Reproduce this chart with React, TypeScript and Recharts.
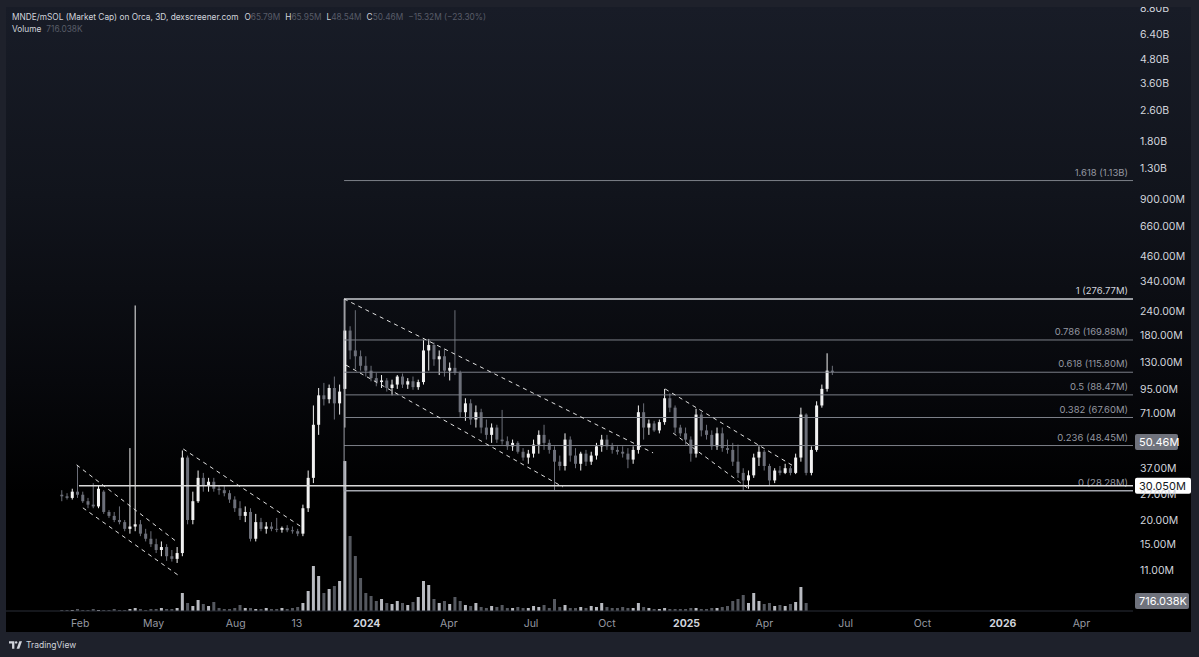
import React from "react";
import { ComposedChart, Bar, XAxis, YAxis, ReferenceLine, Cell } from "recharts";

const FONT = 'Inter, "Noto Sans", Roboto, sans-serif';

// 6-day candles (values in millions), first candle ~ day 10 of 2023
const FIRST_DAY = 10;
const STEP_DAYS = 6;

const OPEN = [
  27, 26.5, 26, 28, 27, 25, 24, 23.5, 28, 22,
  21, 20, 19.5, 18, 18.5, 19, 17, 16, 15, 14,
  14.5, 13, 12.6, 13.5, 42, 20, 25, 33, 30, 31.5,
  29, 28.5, 27.5, 25.5, 23, 21, 22, 16, 19.5, 18,
  18.5, 18, 17.8, 18.2, 17.7, 17.5, 17, 23, 33, 62,
  88, 84, 96, 80, 95, 190, 150, 140, 125, 118,
  108, 103, 105, 96, 100, 110, 100, 104, 97, 103,
  150, 160, 135, 140, 118, 122, 115, 72, 80, 66,
  72, 60, 55, 60, 52, 51, 48, 50, 45, 42,
  44, 49, 55, 50, 46, 40, 38, 52, 43, 39,
  44, 40, 43, 48, 52, 48, 46, 45, 44, 41,
  46, 72, 60, 63, 58, 64, 85, 76, 60, 56,
  52, 44, 70, 58, 55, 48, 56, 47, 46, 40,
  35, 32, 34, 42, 45, 38, 32, 36, 35, 37,
  35, 42, 70, 35, 46, 78, 95, 118,
];
const HIGH = [
  28.5, 27.5, 29, 38.5, 28, 26, 31, 30, 28.5, 22.5,
  22, 23.5, 20, 47, 256, 20, 18, 17.5, 16, 15.5,
  15, 14, 14.5, 45.7, 43, 28, 36, 35, 33, 33,
  30, 30, 28.5, 26.5, 25, 23.5, 23, 21.5, 20.5, 19.5,
  19.5, 20.5, 18.5, 18.8, 18.5, 18, 24, 36, 78, 96,
  102, 100, 110, 100, 277, 200, 242, 150, 140, 125,
  115, 112, 108, 106, 112, 114, 108, 110, 106, 170,
  172, 165, 150, 152, 130, 242, 118, 85, 84, 78,
  75, 66, 63, 62, 74, 54, 52, 51, 47, 46,
  52, 58, 62, 52, 48, 43, 56, 54, 47, 45,
  46, 45, 50, 55, 55, 50, 48, 48, 47, 48,
  78, 80, 66, 65, 66, 95, 90, 78, 62, 60,
  54, 75, 72, 62, 58, 60, 60, 52, 50, 49,
  37, 36, 44, 48, 46, 39, 37, 38, 39, 38,
  44, 76, 71, 48, 82, 100, 145, 125,
];
const LOW = [
  25, 25.5, 25.5, 26, 24.5, 23, 23, 23, 21.5, 20.5,
  19.5, 19, 17.5, 17, 17.5, 16.5, 15.5, 14.5, 13.5, 13,
  12.3, 12.2, 12, 13, 19, 19, 24.5, 28, 28, 28,
  27, 26.5, 24.5, 22, 20, 19.5, 15.5, 15.5, 17.5, 17,
  17.5, 17.3, 17.2, 17.3, 17, 16.5, 16.5, 22, 31, 55,
  78, 80, 66, 70, 60, 135, 120, 118, 110, 104,
  98, 96, 92, 88, 95, 96, 95, 94, 94, 100,
  118, 125, 112, 110, 105, 112, 68, 65, 62, 60,
  56, 52, 50, 50, 49, 46, 45.5, 44, 40.5, 39,
  42, 44, 46, 44, 28.3, 36, 36, 40, 37, 36,
  38, 38.5, 41, 45, 46, 44, 43.5, 42, 37, 39,
  44, 52, 55, 57, 56, 62, 72, 56, 54, 49,
  40, 42, 54, 52, 46, 46, 45, 44, 38, 33,
  28.5, 29, 33, 38, 36, 30, 31, 34, 34.5, 34,
  34.5, 40, 34, 34, 45, 76, 92, 112,
];
const CLOSE = [
  26.5, 26, 28, 27, 25, 24, 23.5, 29, 22, 21,
  20, 19.5, 18, 18.5, 19, 17, 16, 15, 14, 14.5,
  13, 12.6, 13.5, 42, 20, 25, 33, 30, 31.5, 29,
  28.5, 27.5, 25.5, 23, 21, 22, 16, 19.5, 18, 18.5,
  18, 17.8, 18.2, 17.7, 17.5, 17, 23, 33, 62, 88,
  84, 96, 80, 92, 190, 150, 140, 125, 118, 108,
  103, 105, 96, 100, 110, 100, 104, 97, 103, 150,
  160, 135, 140, 118, 122, 115, 72, 80, 66, 72,
  60, 55, 60, 52, 51, 48, 50, 45, 42, 44,
  49, 55, 50, 46, 40, 38, 52, 43, 39, 44,
  40, 43, 48, 52, 48, 46, 45, 44, 41, 46,
  72, 60, 63, 58, 64, 85, 76, 60, 56, 52,
  44, 70, 58, 55, 48, 56, 47, 46, 40, 35,
  32, 34, 42, 45, 38, 32, 36, 35, 37, 35,
  42, 70, 35, 46, 78, 95, 118, 116,
];
// volume in thousands
const VOLUME = [
  72, 72, 72, 144, 72, 72, 144, 72, 72, 72,
  144, 72, 72, 144, 216, 144, 72, 144, 144, 216,
  144, 144, 216, 1296, 576, 360, 792, 504, 360, 648,
  216, 144, 144, 216, 432, 216, 216, 144, 144, 216,
  144, 144, 216, 144, 216, 288, 576, 1440, 3240, 2520,
  1296, 1584, 1800, 2160, 10800, 5400, 3960, 2376, 1296, 1080,
  720, 864, 576, 504, 720, 576, 432, 648, 1008, 2160,
  1872, 864, 576, 720, 504, 1008, 720, 432, 360, 576,
  288, 216, 360, 288, 432, 216, 216, 288, 216, 216,
  360, 288, 432, 216, 864, 288, 432, 216, 216, 288,
  216, 360, 288, 576, 288, 216, 216, 288, 216, 216,
  576, 288, 216, 144, 144, 216, 144, 144, 144, 144,
  216, 216, 144, 144, 216, 216, 288, 360, 720, 864,
  1152, 576, 1296, 720, 504, 576, 360, 432, 360, 504,
  648, 1728, 576, 0, 0, 0, 0, 0,
];

const TIME_TICKS = [31, 115, 209, 279, 359, 453, 547, 634, 725, 814, 907, 995, 1087, 1177];
const TIME_LABELS = ["Feb", "May", "Aug", "13", "2024", "Apr", "Jul", "Oct", "2025", "Apr", "Jul", "Oct", "2026", "Apr"];
const PRICE_TICKS = [8800, 6400, 4800, 3600, 2600, 1800, 1300, 900, 660, 460, 340, 240, 180, 130, 95, 71, 37, 27, 20, 15, 11];

const FIB_LEVELS = ["1.618", "1", "0.786", "0.618", "0.5", "0.382", "0.236", "0"];
const FIB_PRICES = [1130, 276.77, 169.88, 115.8, 88.47, 67.6, 48.45, 28.28];
const FIB_START = 333;
const RAY_START = 29.5;
const RAY_PRICE = 30.05;
const LAST_PRICE = 50.46;
const LAST_VOLUME = 716.038;

// dashed channel lines: [day, price] pairs
const CHANNELS = [
  [[26.8, 38.5], [141.7, 15.4]],
  [[34, 23.1], [142.8, 10.4]],
  [[148.9, 46.5], [286, 18.2]],
  [[332.9, 276.8], [686.7, 44.4]],
  [[335.2, 126], [583.6, 29.6]],
  [[700.5, 94.9], [849.3, 37.5]],
  [[709.6, 56.2], [797.8, 28.6]],
];

const X_DOMAIN: [number, number] = [-54, 1236];
const Y_DOMAIN: [number, number] = [6.78, 8890];

const UP = "#f2f2f2";
const DOWN = "#6c6f79";

const data = OPEN.map((o, i) => ({
  t: FIRST_DAY + STEP_DAYS * i,
  o,
  h: HIGH[i],
  l: LOW[i],
  c: CLOSE[i],
  range: [LOW[i], HIGH[i]],
  v: VOLUME[i],
}));

const fmtPrice = (v: number) => (v >= 1000 ? (v / 1000).toFixed(2) + "B" : v.toFixed(2) + "M");

function Candle(props: any) {
  const { x, y, width, height, index } = props;
  const d = props.payload && props.payload.o != null ? props.payload : data[index];
  if (!d || !isFinite(y) || !isFinite(height)) return null;
  const top = Math.min(y, y + height);
  const bottom = Math.max(y, y + height);
  const lh = Math.log(d.h);
  const span = lh - Math.log(d.l) || 1;
  const toY = (v: number) => top + ((bottom - top) * (lh - Math.log(v))) / span;
  const color = d.c >= d.o ? UP : DOWN;
  const cx = x + width / 2;
  const bTop = toY(Math.max(d.o, d.c));
  const bBot = toY(Math.min(d.o, d.c));
  return (
    <g>
      <line x1={cx} x2={cx} y1={top} y2={bottom} stroke={color} strokeWidth={1} />
      <rect x={x} y={bTop} width={width} height={Math.max(1, bBot - bTop)} fill={color} />
    </g>
  );
}

function TimeTick(props: any) {
  const { x, y, payload } = props;
  const label = TIME_LABELS[TIME_TICKS.indexOf(payload.value)] ?? "";
  const year = /^\d{4}$/.test(label);
  return (
    <text x={x} y={y + 14} textAnchor="middle" fontSize={10.5} fontFamily={FONT}
      fill={year ? "#d1d4dc" : "#9598a1"} fontWeight={year ? 700 : 400}>
      {label}
    </text>
  );
}

function FibLabel(props: any) {
  const { viewBox, text, color } = props;
  if (!viewBox) return null;
  return (
    <text x={viewBox.x + viewBox.width - 5} y={viewBox.y - 5} textAnchor="end"
      fontSize={9.5} fontFamily={FONT} fill={color}>
      {text}
    </text>
  );
}

function AxisBox(props: any) {
  const { viewBox, text, bg, fg, w } = props;
  if (!viewBox) return null;
  const x = viewBox.x + viewBox.width + 2;
  const y = viewBox.y;
  return (
    <g>
      <rect x={x} y={y - 8} width={w} height={16} rx={2} fill={bg} />
      <text x={x + 4} y={y + 4} fontSize={11} fontFamily={FONT} fill={fg}>{text}</text>
    </g>
  );
}

function Logo() {
  return (
    <svg width={13} height={8} viewBox="0 0 17 10">
      <path d="M0 0h7v10H4V3H0z" fill="#d1d4dc" />
      <circle cx={9.3} cy={1.6} r={1.6} fill="#d1d4dc" />
      <path d="M10 10 L13.5 0 H17 L13.5 10z" fill="#d1d4dc" />
    </svg>
  );
}

export default function App() {
  const dim = "#575b67";
  const txt = "#d1d4dc";
  return (
    <div style={{ position: "absolute", left: 0, top: 0, width: 1199, height: 657, background: "#1e212b", overflow: "hidden", fontFamily: FONT }}>
      <div style={{
        position: "absolute", left: 6, top: 7, width: 1185, height: 625,
        background: "linear-gradient(180deg, #181c27 0%, #11141c 30%, #07080c 60%, #000000 78%)",
      }}>
        <ComposedChart width={1185} height={625} data={data} margin={{ top: 0, right: 0, bottom: 0, left: 0 }}>
          <XAxis dataKey="t" type="number" domain={X_DOMAIN} ticks={TIME_TICKS} allowDataOverflow
            tick={<TimeTick />} tickLine={false} tickSize={0} height={21} axisLine={{ stroke: "#2a2e39" }} interval={0} />
          <XAxis xAxisId="vol" dataKey="t" type="number" domain={X_DOMAIN} hide allowDataOverflow />
          <YAxis orientation="right" scale="log" domain={Y_DOMAIN} ticks={PRICE_TICKS} allowDataOverflow
            width={58} axisLine={false} tickLine={false} tickSize={0} tickMargin={7} interval={0}
            tickFormatter={fmtPrice} tick={{ fill: txt, fontSize: 10.5, fontFamily: FONT }} />
          <YAxis yAxisId="vol" domain={[0, 43500]} hide allowDataOverflow />

          <Bar xAxisId="vol" yAxisId="vol" dataKey="v" barSize={3} isAnimationActive={false}>
            {data.map((d, i) => (
              <Cell key={i} fill={d.c >= d.o ? "#b9bbc1" : "#55585f"} />
            ))}
          </Bar>

          {FIB_PRICES.map((p, i) => (
            <ReferenceLine key={"fib" + i}
              segment={[{ x: FIB_START, y: p }, { x: X_DOMAIN[1], y: p }]}
              stroke={i === 1 ? "#c9cbd1" : i === 7 ? "#a3a6ad" : "#7c7f88"}
              strokeWidth={i === 1 || i === 7 ? 1.5 : 1}
              label={<FibLabel text={`${FIB_LEVELS[i]} (${fmtPrice(p)})`} color={i === 1 ? txt : "#9598a1"} />} />
          ))}

          <ReferenceLine segment={[{ x: FIB_START, y: FIB_PRICES[1] }, { x: FIB_START, y: FIB_PRICES[7] }]}
            stroke="#9a9da5" strokeWidth={1} />

          <ReferenceLine segment={[{ x: RAY_START, y: RAY_PRICE }, { x: X_DOMAIN[1], y: RAY_PRICE }]}
            stroke="#d9d9d9" strokeWidth={1.5}
            label={<AxisBox text="30.050M" bg="#ffffff" fg="#131722" w={56} />} />

          {CHANNELS.map((seg, i) => (
            <ReferenceLine key={"ch" + i}
              segment={[{ x: seg[0][0], y: seg[0][1] }, { x: seg[1][0], y: seg[1][1] }]}
              stroke="#e0e0e0" strokeWidth={1} strokeDasharray="4 4" />
          ))}

          <Bar dataKey="range" barSize={3} shape={Candle} isAnimationActive={false} />

          <ReferenceLine y={LAST_PRICE} stroke="#000" strokeOpacity={0}
            label={<AxisBox text="50.46M" bg="#6f727c" fg="#ffffff" w={43} />} />
          <ReferenceLine yAxisId="vol" xAxisId="vol" y={LAST_VOLUME} stroke="#000" strokeOpacity={0}
            label={<AxisBox text="716.038K" bg="#6f727c" fg="#ffffff" w={54} />} />
        </ComposedChart>
      </div>

      <div style={{ position: "absolute", left: 12, top: 12, fontSize: 8.3, lineHeight: "10px", color: txt, whiteSpace: "nowrap" }}>
        <span>MNDE/mSOL (Market Cap) on Orca, 3D, dexscreener.com</span>
        <span style={{ marginLeft: 6 }}>O</span><span style={{ color: dim }}>65.79M</span>
        <span style={{ marginLeft: 5 }}>H</span><span style={{ color: dim }}>65.95M</span>
        <span style={{ marginLeft: 5 }}>L</span><span style={{ color: dim }}>48.54M</span>
        <span style={{ marginLeft: 5 }}>C</span><span style={{ color: dim }}>50.46M</span>
        <span style={{ marginLeft: 5, color: dim }}>−15.32M (−23.30%)</span>
      </div>
      <div style={{ position: "absolute", left: 12, top: 24, fontSize: 8.3, lineHeight: "10px", color: txt, whiteSpace: "nowrap" }}>
        <span>Volume</span><span style={{ marginLeft: 5, color: dim }}>716.038K</span>
      </div>

      <div style={{ position: "absolute", left: 9, top: 640, display: "flex", alignItems: "center", gap: 4, color: txt, fontSize: 8.5 }}>
        <Logo />
        <span>TradingView</span>
      </div>
    </div>
  );
}
